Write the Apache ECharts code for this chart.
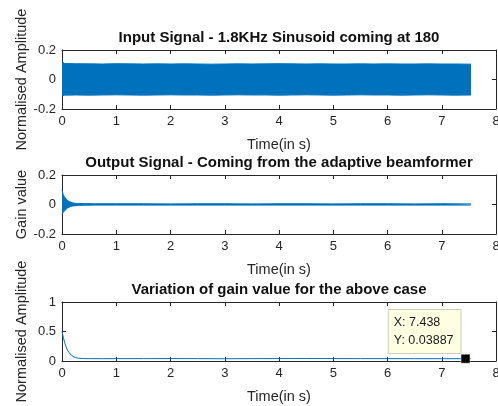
<!DOCTYPE html>
<html>
<head>
<meta charset="utf-8">
<script src="https://cdn.jsdelivr.net/npm/echarts@6/dist/echarts.min.js"></script>
<style>
html,body{margin:0;padding:0;background:#fff;}
#c{width:498px;height:406px;}
</style>
</head>
<body>
<div id="c"></div>
<script>
// ---- data ----
const titles = ['Input Signal - 1.8KHz Sinusoid coming at 180',
                'Output Signal - Coming from the adaptive beamformer',
                'Variation of gain value for the above case'];
const yNames = ['Normalised Amplitude', 'Gain value', 'Normalised Amplitude'];
const xName = 'Time(in s)';

// input signal envelope (dense 1.8 kHz sinusoid, drawn as its envelope band)
const inTime  = [0, 0.02, 0.05, 0.25, 0.5, 0.75, 1.0, 1.25, 1.5, 1.75, 2.0, 2.25, 2.5, 2.75, 3.0, 3.25, 3.5, 3.75, 4.0, 4.25, 4.5, 4.75, 5.0, 5.25, 5.5, 5.75, 6.0, 6.25, 6.5, 6.75, 7.0, 7.25, 7.54];
const inUpper = [0.12, 0.115, 0.108, 0.107, 0.106, 0.105, 0.107, 0.106, 0.105, 0.106, 0.105, 0.106, 0.105, 0.104, 0.105, 0.106, 0.105, 0.106, 0.107, 0.106, 0.105, 0.106, 0.105, 0.105, 0.106, 0.105, 0.106, 0.105, 0.105, 0.106, 0.105, 0.105, 0.104];
const inLower = [-0.11, -0.108, -0.106, -0.105, -0.106, -0.105, -0.104, -0.105, -0.106, -0.105, -0.104, -0.105, -0.105, -0.106, -0.105, -0.104, -0.105, -0.105, -0.106, -0.105, -0.104, -0.105, -0.106, -0.105, -0.104, -0.105, -0.105, -0.106, -0.105, -0.104, -0.105, -0.106, -0.105];

// output signal envelope
const outTime  = [0, 0.01, 0.02, 0.04, 0.06, 0.08, 0.1, 0.13, 0.16, 0.2, 0.25, 0.3, 0.4, 0.6, 1.0, 1.5, 2.0, 2.5, 3.0, 3.5, 4.0, 4.5, 5.0, 5.5, 6.0, 6.5, 7.0, 7.54];
const outUpper = [0.1, 0.09, 0.07, 0.055, 0.045, 0.035, 0.028, 0.02, 0.015, 0.011, 0.008, 0.007, 0.006, 0.005, 0.005, 0.005, 0.004, 0.005, 0.005, 0.004, 0.005, 0.005, 0.004, 0.005, 0.005, 0.004, 0.005, 0.004];
const outLower = [-0.07, -0.065, -0.055, -0.045, -0.038, -0.03, -0.024, -0.018, -0.013, -0.01, -0.008, -0.006, -0.005, -0.004, -0.004, -0.004, -0.004, -0.004, -0.004, -0.004, -0.004, -0.004, -0.004, -0.004, -0.004, -0.004, -0.004, -0.004];

// gain variation
const gainTime = [0, 0.025, 0.05, 0.075, 0.1, 0.125, 0.15, 0.2, 0.25, 0.3, 0.35, 0.4, 0.5, 0.75, 1.0, 1.5, 2.0, 2.5, 3.0, 3.5, 4.0, 4.5, 5.0, 5.5, 6.0, 6.5, 7.0, 7.438, 7.54];
const gainVal  = [0.5, 0.4, 0.31, 0.24, 0.185, 0.145, 0.115, 0.078, 0.058, 0.048, 0.043, 0.041, 0.04, 0.039, 0.04, 0.04, 0.041, 0.04, 0.038, 0.04, 0.041, 0.042, 0.041, 0.04, 0.04, 0.039, 0.039, 0.03887, 0.039];

// data tip
const tipPoint = [7.438, 0.03887];

// axis settings
const xTicks = {min: 0, max: 8, interval: 1};
const yRanges = [{min: -0.2, max: 0.2, interval: 0.2}, {min: -0.2, max: 0.2, interval: 0.2}, {min: 0, max: 1, interval: 0.5}];

// ---- chart ----
const FONT = '"Liberation Sans", Arial, Helvetica, sans-serif';
const AX = '#262626';
const BLUE = '#0072BD';
const gridTops = [50, 175, 302];

const grid = gridTops.map(t => ({left: 62, right: 2, top: t, height: 59, containLabel: false, outerBoundsMode: 'none'}));
const xAxis = [], yAxis = [];
gridTops.forEach((t, i) => {
  xAxis.push({
    type: 'value', gridIndex: i, position: 'bottom', ...xTicks,
    name: xName, nameLocation: 'middle', nameGap: 28, nameMoveOverlap: false,
    nameTextStyle: {color: AX, fontFamily: FONT, fontSize: 14.5},
    axisLine: {onZero: false, lineStyle: {color: AX, width: 1}},
    axisTick: {inside: true, length: 4, lineStyle: {color: AX}},
    axisLabel: {color: AX, fontFamily: FONT, fontSize: 13, margin: 6, hideOverlap: false},
    splitLine: {show: false}
  });
  xAxis.push({
    type: 'value', gridIndex: i, position: 'top', ...xTicks,
    name: titles[i], nameLocation: 'middle', nameGap: 5, nameMoveOverlap: false,
    nameTextStyle: {color: '#111', fontFamily: FONT, fontSize: 15, fontWeight: 'bold'},
    axisLine: {onZero: false, lineStyle: {color: AX, width: 1}},
    axisTick: {inside: true, length: 4, lineStyle: {color: AX}},
    axisLabel: {show: false},
    splitLine: {show: false}
  });
  yAxis.push({
    type: 'value', gridIndex: i, position: 'left', ...yRanges[i],
    name: yNames[i], nameLocation: 'middle', nameGap: 33, nameRotate: 90, nameMoveOverlap: false,
    nameTextStyle: {color: AX, fontFamily: FONT, fontSize: 14.5},
    axisLine: {show: true, onZero: false, lineStyle: {color: AX, width: 1}},
    axisTick: {show: true, inside: true, length: 4, lineStyle: {color: AX}},
    axisLabel: {color: AX, fontFamily: FONT, fontSize: 13, margin: 6},
    splitLine: {show: false}
  });
  yAxis.push({
    type: 'value', gridIndex: i, position: 'right', ...yRanges[i],
    axisLine: {show: true, onZero: false, lineStyle: {color: AX, width: 1}},
    axisTick: {show: true, inside: true, length: 4, lineStyle: {color: AX}},
    axisLabel: {show: false},
    splitLine: {show: false}
  });
});

// band = upper envelope filled down past zero + lower envelope filled up past zero (overlapping, no seam)
const bandSeries = (idx, t, lo, hi, overlap) => [
  {
    type: 'line', xAxisIndex: idx, yAxisIndex: idx,
    data: t.map((x, i) => [x, hi[i]]), symbol: 'none', silent: true,
    lineStyle: {color: BLUE, width: 1},
    areaStyle: {color: BLUE, opacity: 1, origin: -overlap}
  },
  {
    type: 'line', xAxisIndex: idx, yAxisIndex: idx,
    data: t.map((x, i) => [x, lo[i]]), symbol: 'none', silent: true,
    lineStyle: {color: BLUE, width: 1},
    areaStyle: {color: BLUE, opacity: 1, origin: overlap}
  }
];

const series = [
  ...bandSeries(0, inTime, inLower, inUpper, 0.05),
  ...bandSeries(2, outTime, outLower, outUpper, 0.003),
  {
    type: 'line', xAxisIndex: 4, yAxisIndex: 4, data: gainTime.map((x, i) => [x, gainVal[i]]),
    symbol: 'none', lineStyle: {color: BLUE, width: 1},
    markPoint: {
      symbol: 'rect', symbolSize: 9,
      itemStyle: {color: '#000', borderColor: '#ffffe0', borderWidth: 0.5},
      data: [{coord: tipPoint}],
      label: {
        show: true, position: [-72, -44],
        formatter: 'X: ' + tipPoint[0] + '\nY: ' + tipPoint[1],
        color: '#1a1a1a', fontFamily: FONT, fontSize: 12.5, lineHeight: 17.5, align: 'left', verticalAlign: 'top',
        backgroundColor: '#ffffe1', borderColor: '#cfcfbf', borderWidth: 1,
        padding: [4, 7, 4, 5]
      }
    }
  }
];

const chart = echarts.init(document.getElementById('c'), null, {renderer: 'canvas'});
chart.setOption({animation: false, backgroundColor: '#fff', grid, xAxis, yAxis, series});
</script>
</body>
</html>
